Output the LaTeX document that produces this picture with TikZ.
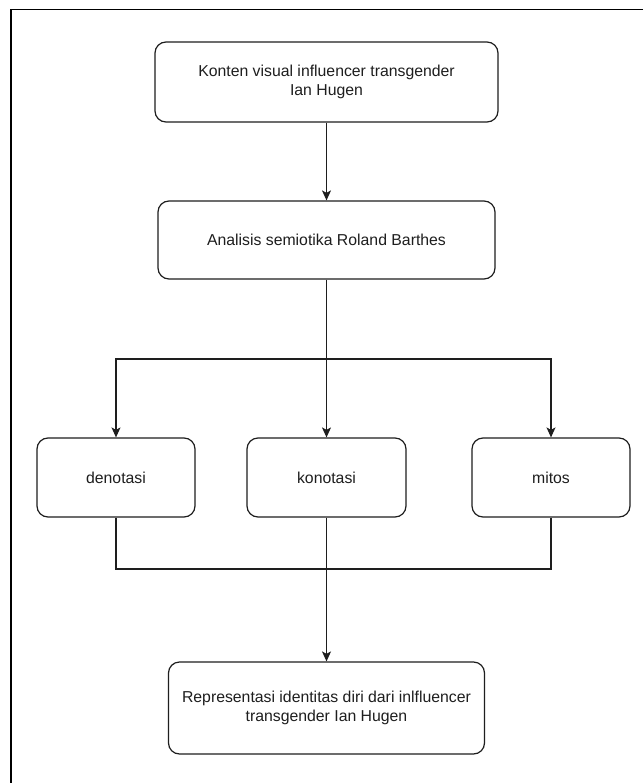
\documentclass[tikz,border=0pt]{standalone}
\usepackage{fontspec}
\setmainfont{Liberation Sans}
\usetikzlibrary{arrows.meta}
\definecolor{ink}{HTML}{1E1E1E}
\tikzset{
  box/.style={draw=ink, line width=1.2pt, rounded corners=11pt, inner sep=0pt,
    align=center, text=ink, font=\fontsize{15.8}{19.5}\selectfont},
  link/.style={draw=ink, line width=1.1pt},
  arr/.style={link, -{Stealth[length=10pt,width=9pt,inset=2.5pt]}},
  frameline/.style={draw=black, line width=1.8pt}
}
\begin{document}
\begin{tikzpicture}[x=1pt,y=-1pt]
\useasboundingbox (0,0) rectangle (643,783);
\fill[white] (0,0) rectangle (643,783);
% outer frame
\coordinate (fTL) at (11,9.5);
\coordinate (fTR) at (643,9.5);
\coordinate (fBL) at (11,783);
\draw[frameline] (fTR) -- (fTL) -- (fBL);
% nodes
\node[box, minimum width=343pt, minimum height=80pt] (top) at (326.5,82)
  {Konten visual influencer transgender\\Ian Hugen};
\node[box, minimum width=337pt, minimum height=78pt] (mid) at (326.5,240)
  {Analisis semiotika Roland Barthes};
\node[box, minimum width=158pt, minimum height=79pt] (den) at (116,477.5) {denotasi};
\node[box, minimum width=159pt, minimum height=79pt] (kon) at (326.5,477.5) {konotasi};
\node[box, minimum width=158pt, minimum height=79pt] (mit) at (551,477.5) {mitos};
\node[box, minimum width=316pt, minimum height=92pt] (bot) at (326.5,708)
  {Representasi identitas diri dari inlfluencer\\transgender Ian Hugen};
% connectors
\coordinate (split) at (326.5,359);
\coordinate (merge) at (326.5,569);
\draw[arr] (top.south) -- (mid.north);
\draw[arr] (mid.south) -- (kon.north);
\draw[arr] (split) -| (den.north);
\draw[arr] (split) -| (mit.north);
\draw[link] (den.south) |- (merge);
\draw[link] (mit.south) |- (merge);
\draw[arr] (kon.south) -- (bot.north);
\end{tikzpicture}
\end{document}
